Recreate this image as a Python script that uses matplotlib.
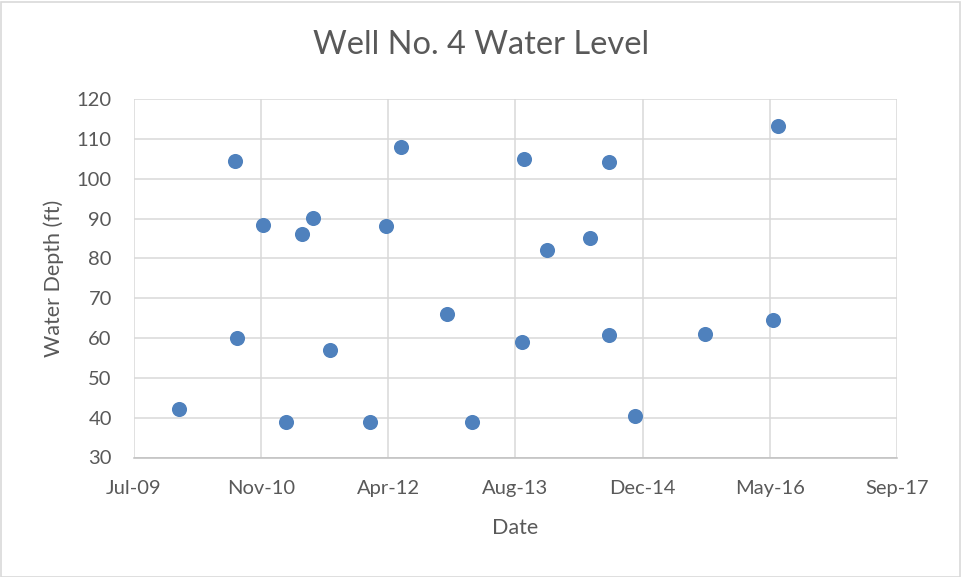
import matplotlib
matplotlib.use("Agg")
import matplotlib.pyplot as plt
import matplotlib.dates as mdates
from matplotlib.patches import Rectangle
import pandas as pd

# Data
dates = ["2009-12-31", "2010-08-08", "2010-08-14", "2010-11-26", "2011-02-24",
         "2011-04-28", "2011-06-11", "2011-08-16", "2012-01-20", "2012-03-22",
         "2012-05-21", "2012-11-19", "2013-02-25", "2013-09-10", "2013-09-17",
         "2013-12-15", "2014-06-03", "2014-08-16", "2014-08-16", "2014-11-28",
         "2015-08-29", "2016-05-22", "2016-06-10"]
depth = [42.1, 104.4, 60.0, 88.3, 39.0,
         86.1, 90.1, 57.0, 39.0, 88.0,
         108.0, 66.0, 39.0, 59.0, 105.0,
         82.1, 85.0, 104.1, 60.8, 40.4,
         61.0, 64.6, 113.1]
x_ticks = ["2009-07-06", "2010-11-18", "2012-04-01", "2013-08-14",
           "2014-12-27", "2016-05-10", "2017-09-22"]
y_ticks = [30, 40, 50, 60, 70, 80, 90, 100, 110, 120]

title = "Well No. 4 Water Level"
x_label = "Date"
y_label = "Water Depth (ft)"

plt.rcParams['font.family'] = ['Lato', 'DejaVu Sans']
text_color = "#595959"
grid_color = "#D9D9D9"
marker_color = "#4F81BD"

W, H = 961, 577
fig = plt.figure(figsize=(W / 100, H / 100), dpi=100)
ax = fig.add_axes([134 / W, 1 - 457.5 / H, (897 - 134) / W, (457.5 - 99) / H])

xd = pd.to_datetime(dates)
xt = pd.to_datetime(x_ticks)
ax.scatter(xd, depth, s=118, color=marker_color, zorder=3, linewidths=0)

ax.set_xlim(xt[0], xt[-1])
ax.set_ylim(y_ticks[0], y_ticks[-1])
ax.set_xticks(xt)
ax.xaxis.set_major_formatter(mdates.DateFormatter('%b-%y'))
ax.set_yticks(y_ticks)

ax.grid(True, color=grid_color, linewidth=1.1, zorder=0)
ax.set_axisbelow(True)
for side in ["top", "right", "left"]:
    ax.spines[side].set_visible(False)
ax.spines["bottom"].set_color("#BFBFBF")
ax.spines["bottom"].set_linewidth(1.1)
ax.tick_params(axis='both', length=0, labelsize=14.5, colors=text_color)
ax.tick_params(axis='x', pad=16)
ax.tick_params(axis='y', pad=16)

ax.set_xlabel(x_label, fontsize=15.5, color=text_color, labelpad=15)
ax.set_ylabel(y_label, fontsize=15.5, color=text_color, labelpad=9)
fig.text(481 / W, 1 - 45 / H, title, fontsize=23.5,
         color=text_color, ha='center', va='center')

fig.patches.append(Rectangle((0.5 / W, 0.5 / H), (W - 2) / W, (H - 2) / H,
                             transform=fig.transFigure, fill=False,
                             edgecolor="#D9D9D9", linewidth=1.2))

fig.savefig("out.png", dpi=100, facecolor="white")
